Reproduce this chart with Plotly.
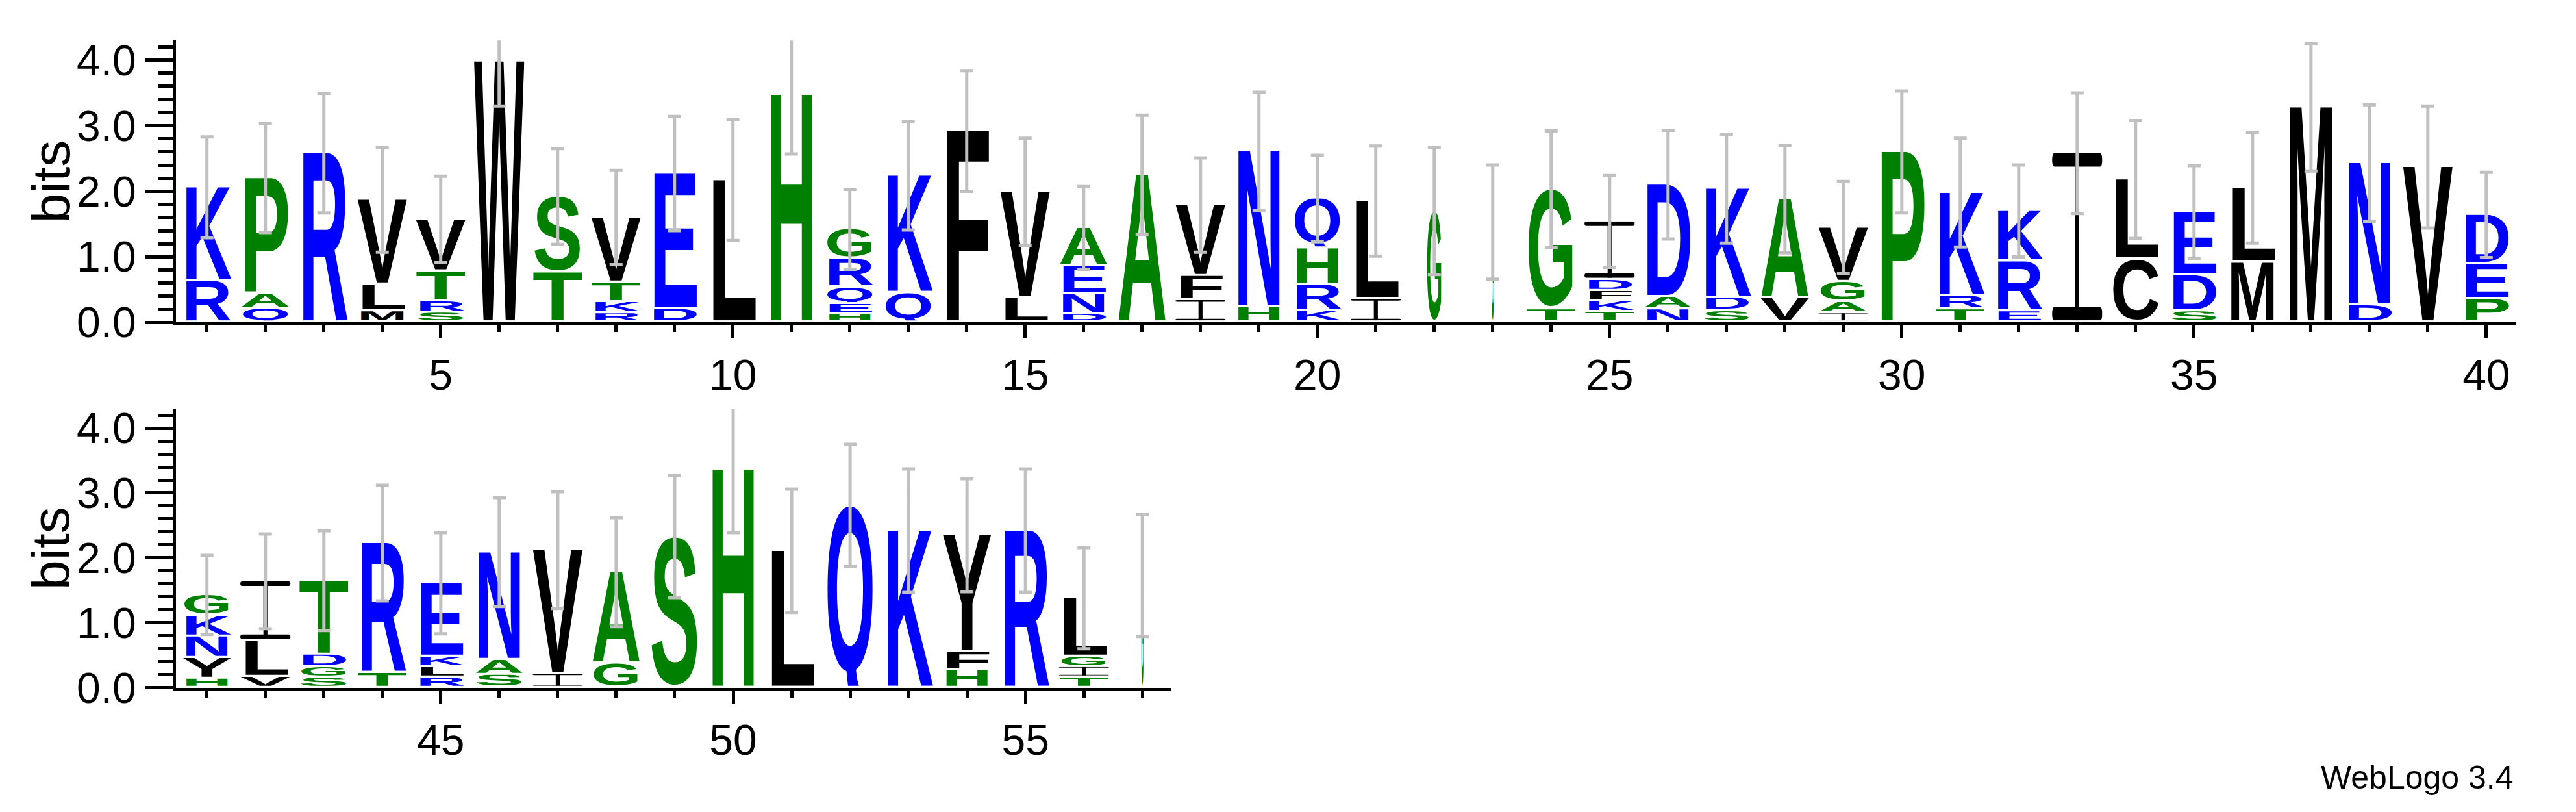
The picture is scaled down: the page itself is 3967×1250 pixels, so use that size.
import base64
import plotly.graph_objects as go

# ---------------- data ----------------
positions = list(range(1, 58))
# letters of each stack, bottom -> top
stack_letters = [
    "RK", "QAP", "R", "MLV", "SRTV", "W", "TS", "RKTV", "DE", "L",
    "H", "HEQRG", "QK", "F", "LV", "DNEA", "A", "IFV", "HN", "KRHQ",
    "IL", "G", "G", "TG", "TKFDI", "NAD", "SDK", "VA", "IAGV", "P",
    "TRK", "ERK", "I", "CL", "SDE", "ML", "M", "DN", "V", "PED",
    "HYNKG", "VLI", "SGDT", "TR", "RLKE", "SAN", "IV", "GA", "S", "H",
    "L", "Q", "K", "HFY", "R", "TIGL", "G",
]
# letter heights in bits, bottom -> top
stack_heights = [
    [0.60, 1.40], [0.18, 0.20, 1.73], [2.55], [0.14, 0.38, 1.26], [0.12, 0.14, 0.43, 0.76],
    [3.95], [0.73, 1.13], [0.11, 0.14, 0.27, 0.96], [0.18, 2.03], [2.14],
    [3.44], [0.10, 0.12, 0.23, 0.40, 0.42], [0.42, 1.76], [2.89], [0.35, 1.58],
    [0.10, 0.27, 0.40, 0.55], [2.22], [0.31, 0.34, 1.05], [0.21, 2.34], [0.15, 0.36, 0.53, 0.73],
    [0.33, 1.46], [1.67], [1.50], [0.17, 1.80], [0.13, 0.13, 0.13, 0.14, 0.86],
    [0.17, 0.16, 1.68], [0.15, 0.17, 1.63], [0.34, 1.48], [0.11, 0.14, 0.28, 0.80], [2.57],
    [0.17, 0.17, 1.55], [0.14, 0.73, 0.74], [2.55], [0.93, 1.19], [0.14, 0.52, 0.93],
    [0.88, 1.11], [3.25], [0.23, 2.14], [2.34], [0.33, 0.50, 0.72],
    [0.11, 0.29, 0.30, 0.29, 0.29], [0.14, 0.52, 0.89], [0.13, 0.13, 0.16, 1.11], [0.20, 1.97], [0.13, 0.13, 0.13, 1.10],
    [0.17, 0.20, 1.63], [0.18, 1.88], [0.35, 1.37], [2.30], [3.33],
    [2.08], [2.78], [2.39], [0.24, 0.25, 1.77], [2.39],
    [0.13, 0.13, 0.13, 0.87], [1.70],
]
# relative stack widths (fraction of non-gap sequences)
stack_widths = [1.0] * 57
stack_widths[21] = 0.32
stack_widths[22] = 0.05
stack_widths[56] = 0.05
# error bar half-lengths in bits
err_half = [
    0.77, 0.83, 0.91, 0.80, 0.66, 0.68, 0.73, 0.72, 0.87, 0.92,
    0.90, 0.61, 0.83, 0.92, 0.82, 0.63, 0.91, 0.72, 0.90, 0.66,
    0.84, 0.97, 0.87, 0.89, 0.70, 0.83, 0.83, 0.82, 0.70, 0.93,
    0.83, 0.70, 0.92, 0.90, 0.71, 0.84, 0.97, 0.89, 0.93, 0.65,
    0.61, 0.73, 0.77, 0.89, 0.78, 0.84, 0.90, 0.84, 0.94, 0.97,
    0.95, 0.94, 0.95, 0.87, 0.95, 0.78, 0.94,
]
x_ticks_top = [5, 10, 15, 20, 25, 30, 35, 40]
x_ticks_bottom = [45, 50, 55]
y_ticks = [0.0, 1.0, 2.0, 3.0, 4.0]

# ---------------- style ----------------
BLUE, GREEN, BLACK = "#0000FF", "#008000", "#000000"
color_of = {}
for c in "RKDENQ":
    color_of[c] = BLUE
for c in "SGHTAP":
    color_of[c] = GREEN
for c in "YVMCLFIW":
    color_of[c] = BLACK

GAP = 0.03
BASE = 0.03
FULL_W = 0.86
FONT = "Liberation Sans, Arial, sans-serif"
ROUND = "CGOQS"


def glyph_uri(letter, color):
    if letter == "I":
        body = (f'<g fill="{color}"><rect x="0" y="-100" width="100" height="8" rx="4"/>'
                f'<rect x="46" y="-100" width="8" height="100"/>'
                f'<rect x="0" y="-8" width="100" height="8" rx="4"/></g>')
        vb = "0 -100 100 100"
    else:
        body = (f'<text x="0" y="0" font-family="{FONT}" font-weight="bold" font-size="100" '
                f'textLength="100" lengthAdjust="spacingAndGlyphs" fill="{color}">{letter}</text>')
        if letter == "Q":
            vb = "0 -70.3 100 77"
        elif letter in ROUND:
            vb = "0 -70.3 100 71.8"
        else:
            vb = "0 -68.8 100 68.8"
    svg = (f'<svg xmlns="http://www.w3.org/2000/svg" width="100" height="70" viewBox="{vb}" '
           f'preserveAspectRatio="none">{body}</svg>')
    return "data:image/svg+xml;base64," + base64.b64encode(svg.encode()).decode()


cache = {}
images = []
tops = []
for pos, letters, heights, w in zip(positions, stack_letters, stack_heights, stack_widths):
    xr, yr = ("x", "y") if pos <= 40 else ("x2", "y2")
    width = FULL_W * w
    y = BASE
    for L, h in zip(letters, heights):
        if L not in cache:
            cache[L] = glyph_uri(L, color_of[L])
        images.append(dict(source=cache[L], xref=xr, yref=yr,
                           x=pos - width / 2, y=y + h, sizex=width, sizey=h, sizing="stretch",
                           xanchor="left", yanchor="top", layer="below"))
        y += h + GAP
    tops.append(y - GAP)

fig = go.Figure()
ERR_COLOR = "#C0C0C0"
for rng, xa, ya in [((1, 40), "x", "y"), ((41, 57), "x2", "y2")]:
    idx = [i for i, p in enumerate(positions) if rng[0] <= p <= rng[1]]
    fig.add_trace(go.Scatter(
        x=[positions[i] for i in idx], y=[tops[i] for i in idx], xaxis=xa, yaxis=ya,
        mode="markers", marker=dict(size=1, color="rgba(0,0,0,0)"), hoverinfo="skip",
        error_y=dict(type="data", array=[err_half[i] for i in idx], color=ERR_COLOR,
                     thickness=5, width=10),
        showlegend=False))

tickfont = dict(family=FONT, size=66, color="black")
common_x = dict(showline=True, linewidth=5, linecolor="black", ticks="outside", tickwidth=5,
                ticklen=19, tickcolor="black", showgrid=False, zeroline=False, tickfont=tickfont,
                minor=dict(ticks="outside", ticklen=10, tickwidth=5, tickcolor="black", dtick=1,
                           tick0=0))
common_y = dict(showline=True, linewidth=5, linecolor="black", ticks="outside", tickwidth=5,
                ticklen=43, tickcolor="black", showgrid=False, zeroline=False, tickfont=tickfont,
                tickformat=".1f", ticklabelstandoff=0,
                minor=dict(ticks="outside", ticklen=22, tickwidth=5, tickcolor="black", dtick=0.2,
                           tick0=0))

fig.update_layout(
    width=3967, height=1250, margin=dict(l=0, r=0, t=0, b=0),
    paper_bgcolor="white", plot_bgcolor="rgba(0,0,0,0)",
    images=images,
    xaxis=dict(domain=[0.0663, 0.9745], range=[0.47, 40.5], anchor="y",
               tickmode="array", tickvals=x_ticks_top, **common_x),
    yaxis=dict(domain=[0.6004, 0.96], range=[0, 4.3], anchor="x",
               tickmode="array", tickvals=y_ticks, **common_y),
    xaxis2=dict(domain=[0.0663, 0.4528], range=[40.47, 57.5], anchor="y2",
                tickmode="array", tickvals=x_ticks_bottom, **common_x),
    yaxis2=dict(domain=[0.1344, 0.4904], range=[0, 4.3], anchor="x2",
                tickmode="array", tickvals=y_ticks, **common_y),
    annotations=[
        dict(text="bits", textangle=-90, xref="paper", yref="y", x=70 / 3967, y=2.15,
             xanchor="center", yanchor="middle",
             showarrow=False, font=dict(family=FONT, size=82, color="black")),
        dict(text="bits", textangle=-90, xref="paper", yref="y2", x=70 / 3967, y=2.15,
             xanchor="center", yanchor="middle",
             showarrow=False, font=dict(family=FONT, size=82, color="black")),
        dict(text="WebLogo 3.4", xref="paper", yref="paper", x=3865 / 3967, y=1 - 1225 / 1250,
             xanchor="right", yanchor="middle", showarrow=False,
             font=dict(family=FONT, size=50, color="black")),
    ],
)

fig.write_html("out.html")
